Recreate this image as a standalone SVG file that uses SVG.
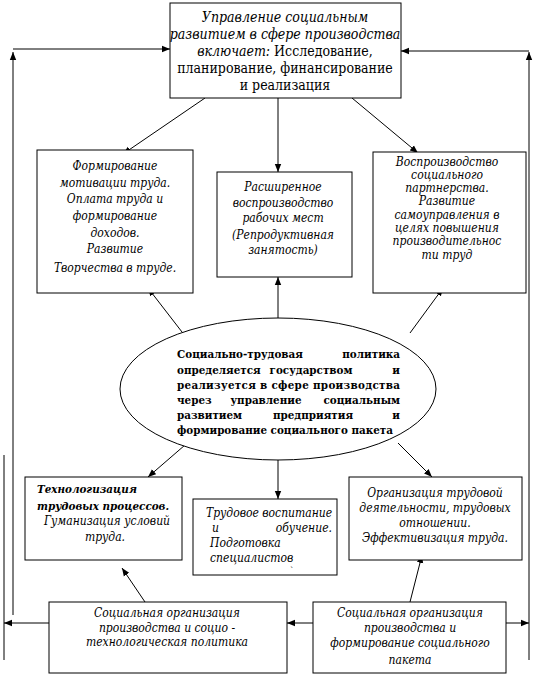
<svg xmlns="http://www.w3.org/2000/svg" width="536" height="676" viewBox="0 0 536 676" font-family="'DejaVu Serif', serif" font-stretch="condensed">
<defs>
<marker id="ah" viewBox="0 0 10 10" refX="10" refY="5" markerWidth="8" markerHeight="8" orient="auto" markerUnits="userSpaceOnUse"><path d="M0,1 L10,5 L0,9 z" fill="#000"/></marker>
</defs>
<style>
.box{fill:#fff;stroke:#000;stroke-width:1}
.ln{stroke:#000;stroke-width:1;fill:none}
.arr{stroke:#000;stroke-width:1;fill:none;marker-end:url(#ah)}
.it{font-style:italic;font-size:12px;text-anchor:middle}
.t15{font-size:14px;text-anchor:middle}
.b{font-weight:bold;font-size:11.5px}
</style>
<rect width="536" height="676" fill="#fff"/>
<g id="connectors">
<line class="arr" x1="13" y1="615" x2="13" y2="52"/>
<line class="arr" x1="13" y1="49" x2="170" y2="49"/>
<line class="arr" x1="529" y1="660" x2="529" y2="52"/>
<line class="arr" x1="529" y1="51" x2="401" y2="51"/>
<line class="ln" x1="4" y1="455" x2="4" y2="660"/>
<line class="arr" x1="205" y1="98" x2="123" y2="154"/>
<line class="arr" x1="278" y1="98" x2="278" y2="172"/>
<line class="arr" x1="352" y1="98" x2="418" y2="153"/>
<line class="arr" x1="182" y1="332" x2="148" y2="288"/>
<line class="arr" x1="278" y1="318" x2="278" y2="277"/>
<line class="arr" x1="410" y1="333" x2="443" y2="288"/>
<line class="arr" x1="185" y1="445" x2="148" y2="477"/>
<line class="arr" x1="278" y1="460" x2="278" y2="499"/>
<line class="arr" x1="398" y1="443" x2="432" y2="477"/>
<line class="arr" x1="145" y1="602" x2="122" y2="568"/>
<line class="arr" x1="410" y1="602" x2="422" y2="555"/>
<line class="arr" x1="49" y1="623" x2="4" y2="623"/>
<line class="arr" x1="313" y1="623" x2="287" y2="623"/>
<line class="arr" x1="506" y1="623" x2="529" y2="623"/>
</g>
<g id="n-top">
<rect class="box" x="170" y="3" width="231" height="95"/>
<text class="t15" x="285" y="22"><tspan font-style="italic">Управление социальным</tspan></text>
<text class="t15" x="285" y="39"><tspan font-style="italic">развитием в сфере производства</tspan></text>
<text class="t15" x="285" y="56"><tspan font-style="italic">включает:</tspan> Исследование,</text>
<text class="t15" x="285" y="73">планирование, финансирование</text>
<text class="t15" x="285" y="90">и реализация</text>
</g>
<g id="n-left">
<rect class="box" x="37" y="150" width="156" height="143"/>
<text class="it" x="115" y="170" font-size="13">Формирование</text>
<text class="it" x="115" y="187" font-size="13">мотивации труда.</text>
<text class="it" x="115" y="203" font-size="13">Оплата труда и</text>
<text class="it" x="115" y="220" font-size="13">формирование</text>
<text class="it" x="115" y="237" font-size="13">доходов.</text>
<text class="it" x="115" y="253" font-size="13">Развитие</text>
<text class="it" x="115" y="272" font-size="13">Творчества в труде.</text>
</g>
<g id="n-mid">
<rect class="box" x="217" y="172" width="135" height="105"/>
<text class="it" x="283" y="191">Расширенное</text>
<text class="it" x="283" y="207">воспроизводство</text>
<text class="it" x="283" y="222">рабочих мест</text>
<text class="it" x="283" y="239">(Репродуктивная</text>
<text class="it" x="283" y="254">занятость)</text>
</g>
<g id="n-right">
<rect class="box" x="373" y="152" width="153" height="141"/>
<text class="it" x="447" y="166">Воспроизводство</text>
<text class="it" x="447" y="179">социального</text>
<text class="it" x="447" y="192">партнерства.</text>
<text class="it" x="447" y="205">Развитие</text>
<text class="it" x="447" y="219">самоуправления  в</text>
<text class="it" x="447" y="232">целях повышения</text>
<text class="it" x="447" y="245">производительнос</text>
<text class="it" x="447" y="259">ти труд</text>
</g>
<g id="n-ellipse">
<ellipse class="box" cx="278" cy="389" rx="158" ry="71"/>
<text class="b" x="177" y="358">Социально-трудовая</text>
<text class="b" x="400" y="358" text-anchor="end">политика</text>
<text class="b" x="177" y="374">определяется</text>
<text class="b" x="311" y="374" text-anchor="middle">государством</text>
<text class="b" x="400" y="374" text-anchor="end">и</text>
<text class="b" x="177" y="389" textLength="223" lengthAdjust="spacing">реализуется в сфере производства</text>
<text class="b" x="177" y="404">через</text>
<text class="b" x="266" y="404" text-anchor="middle">управление</text>
<text class="b" x="400" y="404" text-anchor="end">социальным</text>
<text class="b" x="177" y="419">развитием</text>
<text class="b" x="313" y="419" text-anchor="middle">предприятия</text>
<text class="b" x="400" y="419" text-anchor="end">и</text>
<text class="b" x="177" y="434">формирование социального пакета</text>
</g>
<g id="n-tech">
<rect class="box" x="25" y="477" width="157" height="83"/>
<text x="37" y="493" font-size="11.5" font-weight="bold" font-style="italic">Технологизация</text>
<text x="37" y="510" font-size="11.5" font-weight="bold" font-style="italic">трудовых процессов.</text>
<text class="it" x="107" y="525">Гуманизация условий</text>
<text class="it" x="105" y="541">труда.</text>
</g>
<g id="n-edu">
<rect class="box" x="193" y="499" width="144" height="76"/>
<text x="206" y="517" font-size="12" font-style="italic">Трудовое воспитание</text>
<text x="212" y="532" font-size="12" font-style="italic">и</text>
<text x="332" y="532" font-size="12" font-style="italic" text-anchor="end">обучение.</text>
<text x="210" y="547" font-size="12" font-style="italic">Подготовка</text>
<text x="210" y="562" font-size="12" font-style="italic">специалистов</text>
<text x="290" y="574" font-size="9">`</text>
</g>
<g id="n-org">
<rect class="box" x="349" y="477" width="173" height="83"/>
<text class="it" x="435" y="497">Организация трудовой</text>
<text class="it" x="435" y="512">деятельности, трудовых</text>
<text class="it" x="435" y="527">отношении.</text>
<text class="it" x="435" y="542">Эффективизация труда.</text>
</g>
<g id="n-bl">
<rect class="box" x="49" y="602" width="238" height="71"/>
<text class="it" x="167" y="617">Социальная организация</text>
<text class="it" x="167" y="632">производства и социо -</text>
<text class="it" x="167" y="646">технологическая политика</text>
</g>
<g id="n-br">
<rect class="box" x="313" y="602" width="193" height="71"/>
<text class="it" x="410" y="617">Социальная организация</text>
<text class="it" x="410" y="632">производства и</text>
<text class="it" x="410" y="647">формирование социального</text>
<text class="it" x="410" y="664">пакета</text>
</g>
</svg>
